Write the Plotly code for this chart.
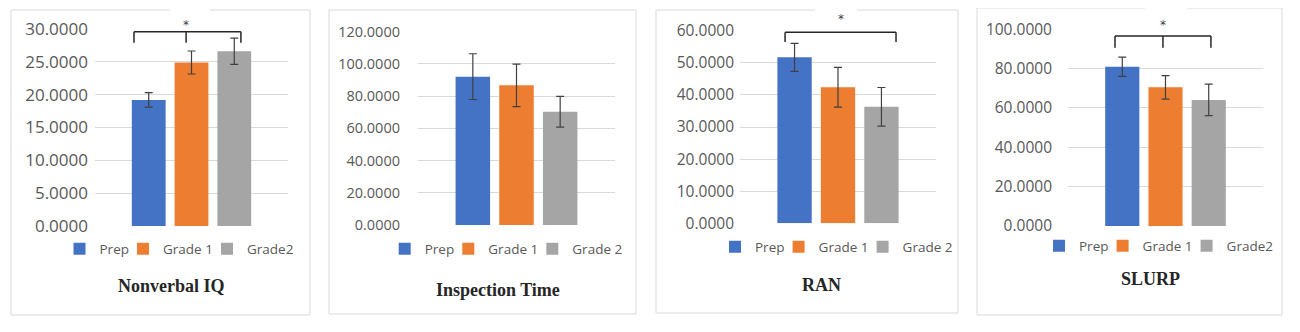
import plotly.graph_objects as go

# ---------------- data ----------------
panel_titles = ["Nonverbal IQ", "Inspection Time", "RAN", "SLURP"]
legend_names = [
    ["Prep", "Grade 1", "Grade2"],
    ["Prep", "Grade 1", "Grade 2"],
    ["Prep", "Grade 1", "Grade 2"],
    ["Prep", "Grade 1", "Grade2"],
]
prep_means = [19.2, 92.1, 51.7, 81.0]
grade1_means = [24.9, 86.7, 42.4, 70.5]
grade2_means = [26.6, 70.3, 36.3, 64.1]
prep_err = [1.1, 14.2, 4.35, 4.9]
grade1_err = [1.75, 13.2, 6.2, 5.95]
grade2_err = [2.0, 9.5, 6.0, 8.0]
y_max = [30, 120, 60, 100]
y_dtick = [5, 20, 10, 20]
# significance brackets: (x positions in category units, top y, bottom y, star y) or None
brackets = [
    ([-0.298, -0.028, 0.256], 29.6, 27.9, 31.1),
    None,
    ([-0.270, 0.296], 59.5, 56.5, 64.6),
    ([-0.259, -0.013, 0.233], 96.6, 90.6, 103.9),
]

# ---------------- style / layout (pixel positions in the 1300x332 window) ----------------
OFF = 8                      # page body margin offset of the plot div
W, H = 1300 - OFF, 332 - OFF  # figure size so the figure fills the window


def fx(px):
    return (px - OFF) / W


def fy(px):
    return 1 - (px - OFF) / H


colors = ["#4472C4", "#ED7D31", "#A5A5A5"]
x_px = [(95, 288), (418, 615), (740, 936), (1068, 1263)]
y_px = [(226, 29), (225, 31.7), (223.3, 30.7), (226, 29.3)]  # (zero, top tick)
frames = [(11, 310, 10, 315), (329, 636, 10, 314), (656, 958, 10, 313), (977, 1282, 8, 315)]
tick_sizes = [17, 14.5, 15.5, 15.5]
tick_standoff = [6, 17, 5, 15]
legend_sym_x = [
    (79.5, 143, 227),
    (404.7, 468.3, 552.3),
    (735, 798.6, 882.6),
    (1059, 1122.6, 1206.6),
]
legend_y = [249, 249, 247, 246]
title_pos = [(171, 286), (498, 290), (822, 285), (1150, 279)]
star_gap_px = [(170, 210), None, (815, 857), (1145, 1187)]

means = [prep_means, grade1_means, grade2_means]
errs = [prep_err, grade1_err, grade2_err]

fig = go.Figure()
layout = dict(
    width=W, height=H, autosize=False,
    margin=dict(l=0, r=0, t=0, b=0, autoexpand=False),
    paper_bgcolor="white", plot_bgcolor="white",
    barmode="group", bargap=0.335, bargroupgap=0.21,
    shapes=[], annotations=[],
)

for p in range(4):
    sfx = "" if p == 0 else str(p + 1)
    xa, ya = "x" + sfx, "y" + sfx
    for s in range(3):
        k = p * 3 + s
        lg = "legend" if k == 0 else "legend" + str(k + 1)
        fig.add_trace(go.Bar(
            x=["c"], y=[means[s][p]], name=legend_names[p][s],
            marker=dict(color=colors[s], line=dict(width=0)),
            error_y=dict(type="data", array=[errs[s][p]], visible=True,
                         color="#404040", thickness=1.2, width=4),
            xaxis=xa, yaxis=ya, legend=lg, showlegend=True,
        ))
        layout[lg] = dict(
            orientation="h", x=fx(legend_sym_x[p][s] - 20), xanchor="left",
            y=fy(legend_y[p]), yanchor="middle",
            font=dict(family="Open Sans", size=13.5, color="#595959"),
            bgcolor="rgba(0,0,0,0)", itemwidth=30, borderwidth=0,
        )
    x0, x1 = x_px[p]
    z, t = y_px[p]
    layout["xaxis" + sfx] = dict(
        domain=[fx(x0), fx(x1)], range=[-0.5, 0.5], showticklabels=False,
        showgrid=False, zeroline=False, showline=False, ticks="", fixedrange=True,
        anchor=ya,
    )
    layout["yaxis" + sfx] = dict(
        domain=[fy(z), fy(t)], range=[0, y_max[p]], dtick=y_dtick[p], tick0=0,
        tickformat=".4f", showgrid=True, gridcolor="#D9D9D9", gridwidth=1,
        zeroline=False, showline=False, ticks="", ticklabelstandoff=tick_standoff[p],
        tickfont=dict(family="Open Sans", size=tick_sizes[p], color="#595959"),
        anchor=xa,
    )
    f0, f1, g0, g1 = frames[p]
    layout["shapes"].append(dict(
        type="rect", xref="paper", yref="paper",
        x0=fx(f0), x1=fx(f1), y0=fy(g1), y1=fy(g0),
        line=dict(color="#D9D9D9", width=1), layer="below",
    ))
    tx, ty = title_pos[p]
    layout["annotations"].append(dict(
        text="<b>" + panel_titles[p] + "</b>", xref="paper", yref="paper",
        x=fx(tx), y=fy(ty), xanchor="center", yanchor="middle", showarrow=False,
        font=dict(family="Liberation Serif", size=18, color="#262626"),
    ))
    br = brackets[p]
    if br is not None:
        xs, ytop, ybot, ystar = br
        gx0, gx1 = star_gap_px[p]
        # white patch behind the star (interrupts the frame border as in the original)
        layout["shapes"].append(dict(
            type="rect", xref="paper", yref="paper",
            x0=fx(gx0), x1=fx(gx1), y0=fy(26), y1=fy(4),
            line=dict(width=0), fillcolor="white", layer="above",
        ))
        layout["shapes"].append(dict(
            type="line", xref=xa, yref=ya, x0=xs[0], x1=xs[-1], y0=ytop, y1=ytop,
            line=dict(color="#262626", width=1.5), layer="above",
        ))
        for xv in xs:
            layout["shapes"].append(dict(
                type="line", xref=xa, yref=ya, x0=xv, x1=xv, y0=ytop, y1=ybot,
                line=dict(color="#262626", width=1.5), layer="above",
            ))
        star_x = (xs[0] + xs[-1]) / 2 if len(xs) == 2 else xs[1]
        layout["annotations"].append(dict(
            text="*", xref=xa, yref=ya + " domain", x=star_x,
            y=ystar / y_max[p], yshift=-3, xanchor="center", yanchor="middle",
            showarrow=False,
            font=dict(family="DejaVu Sans", size=12, color="#404040"),
        ))

fig.update_layout(**layout)
fig.write_html("out.html")
